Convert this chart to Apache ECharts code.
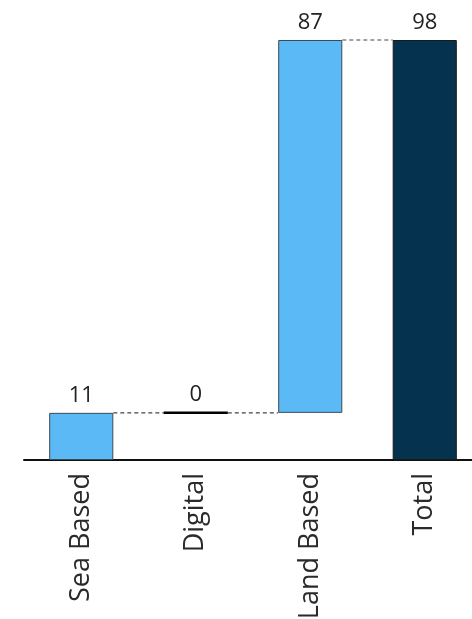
<!DOCTYPE html>
<html>
<head>
<meta charset="utf-8">
<script src="https://cdn.jsdelivr.net/npm/echarts@6/dist/echarts.min.js"></script>
<style>
  html, body { margin: 0; padding: 0; background: #fff; }
  #chart { width: 472px; height: 619px; }
</style>
</head>
<body>
<div id="chart"></div>
<script>
var categories = ['Sea Based', 'Digital', 'Land Based', 'Total'];
var baseValues = [0, 11, 11, 0];
var stepValues = [11, 0, 87, 98];
var connectorLevels = [11, 11, 98];

var myChart = echarts.init(document.getElementById('chart'));

var stepData = stepValues.map(function (v, i) {
    var item = { value: v };
    if (i === categories.length - 1) {
        item.itemStyle = { color: '#04324F', borderColor: '#1a1a1a' };
    }
    if (v === 0) {
        item.itemStyle = { color: '#000', borderColor: '#000', borderWidth: 2.5 };
    }
    return item;
});

var option = {
    animation: false,
    textStyle: { fontFamily: 'Open Sans' },
    grid: {
        left: 24, width: 458, top: 40, bottom: 159,
        containLabel: false,
        outerBoundsMode: 'none'
    },
    xAxis: {
        type: 'category',
        data: categories,
        axisLine: { lineStyle: { color: '#111', width: 2 } },
        axisTick: { show: false },
        axisLabel: {
            rotate: 90,
            interval: 0,
            margin: 13,
            fontSize: 27,
            color: '#2a2a2a',
            fontFamily: 'Open Sans'
        }
    },
    yAxis: {
        type: 'value',
        min: 0,
        max: 98,
        show: false
    },
    series: [
        {
            type: 'bar',
            stack: 'w',
            barWidth: '56%',
            itemStyle: { color: 'transparent' },
            data: baseValues,
            silent: true
        },
        {
            type: 'bar',
            stack: 'w',
            barWidth: '56%',
            itemStyle: { color: '#5BB9F6', borderColor: '#3a4a55', borderWidth: 1 },
            label: {
                show: true,
                position: 'top',
                distance: 6,
                fontSize: 22,
                color: '#222',
                fontFamily: 'Open Sans'
            },
            data: stepData
        },
        {
            type: 'custom',
            data: connectorLevels.map(function (v, i) { return [i, v]; }),
            renderItem: function (params, api) {
                var p = api.coord([api.value(0), api.value(1)]);
                var band = api.size([1, 0])[0];
                var half = band * 0.28;
                return {
                    type: 'line',
                    shape: { x1: p[0] + half, y1: p[1], x2: p[0] + band - half, y2: p[1] },
                    style: { stroke: '#444', lineWidth: 1.2, lineDash: [4, 3] }
                };
            },
            z: 1
        }
    ]
};
myChart.setOption(option);
</script>
</body>
</html>
